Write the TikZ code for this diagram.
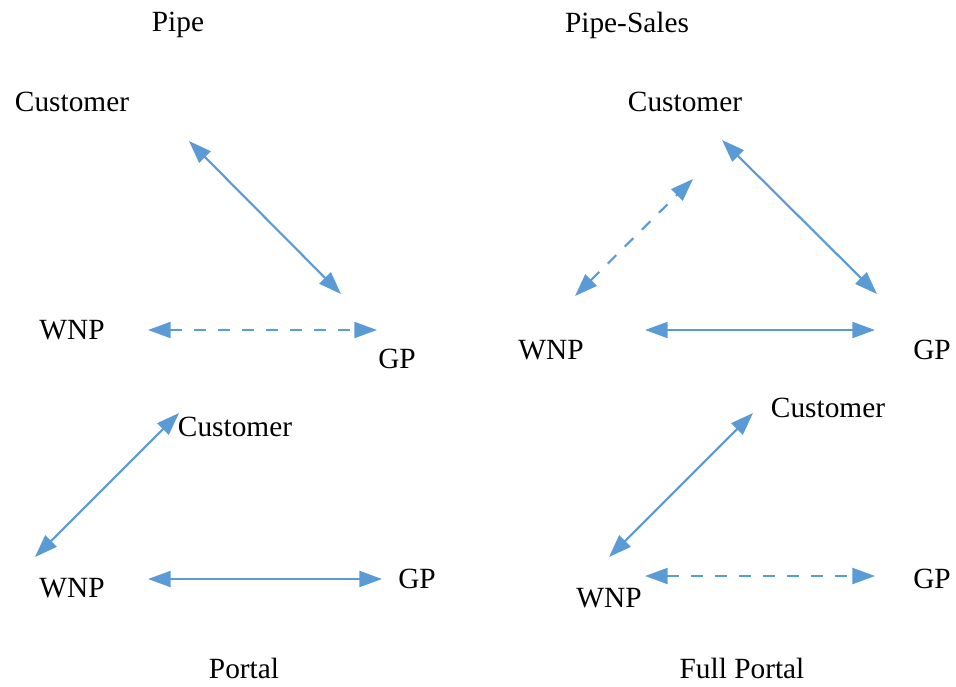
\documentclass[tikz,border=0pt]{standalone}
\usepackage{fontspec}
\setmainfont{Liberation Serif}
\usetikzlibrary{arrows.meta,positioning,calc}
\definecolor{linkblue}{RGB}{91,155,213}
\newcommand{\mtext}[3]{
  \node (#3) at #1 {#2};
}
\newcommand{\mlink}[5][]{
  \coordinate (#2) at #4;
  \coordinate (#3) at #5;
  \draw [link,#1] (#2) -- (#3);
}

\begin{document}
\begin{tikzpicture}[x=0.75pt,y=-0.75pt,
  every node/.style={font=\fontsize{22}{26}\selectfont,inner sep=0pt},
  link/.style={draw=linkblue,line width=1.6pt,
    {Triangle[length=17pt,width=12pt]}-{Triangle[length=17pt,width=12pt]}},
  dashlink/.style={dash pattern=on 9pt off 9pt}]
  \useasboundingbox (0,0) rectangle (956,686);

  \mtext{(178,25)}{Pipe}{t1}
  \mtext{(72,102)}{Customer}{c1}
  \mtext{(72,330)}{WNP}{w1}
  \mtext{(397,359)}{GP}{g1}
  \mlink{a1}{b1}{(189,141)}{(341,294)}
  \mlink[dashlink]{a2}{b2}{(148,330)}{(377,330)}

  \mtext{(627,25)}{Pipe-Sales}{t2}
  \mtext{(685,102)}{Customer}{c2}
  \mtext{(551,350)}{WNP}{w2}
  \mtext{(932,350)}{GP}{g2}
  \mlink[dashlink]{a3}{b3}{(575,296)}{(693,179)}
  \mlink{a4}{b4}{(722,140)}{(877,294)}
  \mlink{a5}{b5}{(645,330)}{(875,330)}

  \mtext{(235,427)}{Customer}{c3}
  \mtext{(72,588)}{WNP}{w3}
  \mtext{(417,579)}{GP}{g3}
  \mtext{(244,668)}{Portal}{t3}
  \mlink{a6}{b6}{(35,557)}{(179,413)}
  \mlink{a7}{b7}{(148,579)}{(382,579)}

  \mtext{(828,408)}{Customer}{c4}
  \mtext{(609,598)}{WNP}{w4}
  \mtext{(932,579)}{GP}{g4}
  \mtext{(742,668)}{Full Portal}{t4}
  \mlink{a8}{b8}{(609,557)}{(753,413)}
  \mlink[dashlink]{a9}{b9}{(645,576)}{(875,576)}
\end{tikzpicture}
\end{document}
